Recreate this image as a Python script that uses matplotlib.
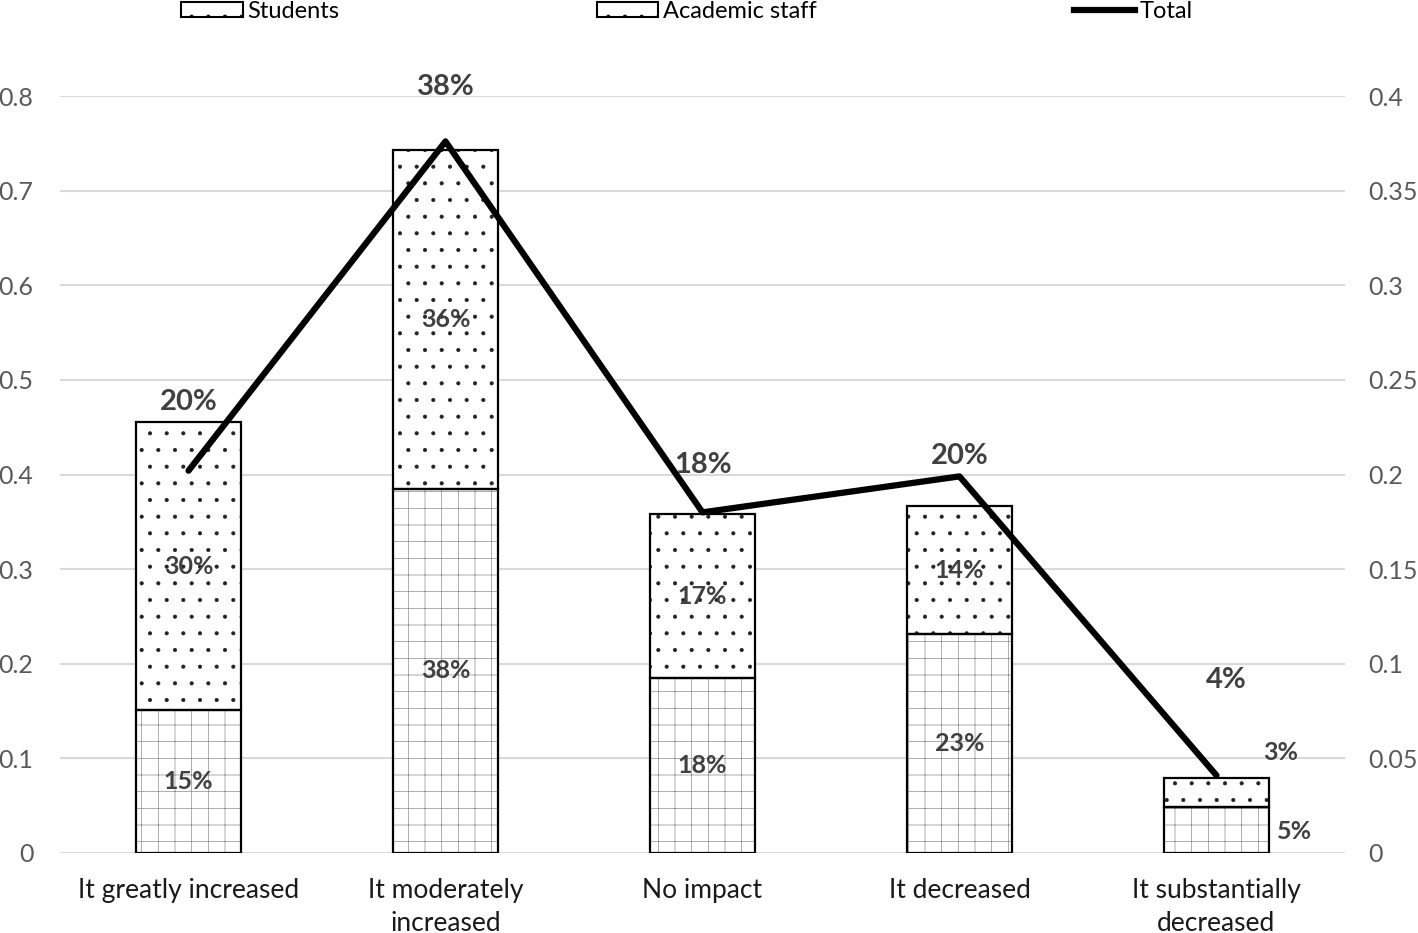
import matplotlib
matplotlib.use("Agg")
import matplotlib.pyplot as plt
from matplotlib.patches import Patch
from matplotlib.lines import Line2D

plt.rcParams['font.family'] = ['Lato', 'DejaVu Sans']
plt.rcParams['hatch.linewidth'] = 0.5

categories = ["It greatly increased", "It moderately\nincreased", "No impact",
              "It decreased", "It substantially\ndecreased"]
students = [0.151, 0.385, 0.185, 0.231, 0.049]
academic = [0.304, 0.358, 0.173, 0.136, 0.030]
total = [0.202, 0.376, 0.180, 0.199, 0.041]
students_lbl = ["15%", "38%", "18%", "23%", "5%"]
academic_lbl = ["30%", "36%", "17%", "14%", "3%"]
total_lbl = ["20%", "38%", "18%", "20%", "4%"]
left_ticks = [0, 0.1, 0.2, 0.3, 0.4, 0.5, 0.6, 0.7, 0.8]
right_ticks = [0, 0.05, 0.1, 0.15, 0.2, 0.25, 0.3, 0.35, 0.4]

fig = plt.figure(figsize=(14.18, 9.33), dpi=100)
ax = fig.add_axes([60/1418, 80/933, 1285/1418, 757/933])
x = list(range(len(categories)))
w = 0.405
lblc = '#404040'

# hatch layers (grey grid for students, black dots for staff)
ax.bar(x, students, width=w, color='white', edgecolor='#8a8a8a', linewidth=0, hatch='+', zorder=2)
ax.bar(x, academic, width=w, bottom=students, color='white', edgecolor='#222222', linewidth=0, hatch='.', zorder=2)
# outlines
ax.bar(x, students, width=w, fill=False, edgecolor='black', linewidth=1.6, zorder=3)
ax.bar(x, academic, width=w, bottom=students, fill=False, edgecolor='black', linewidth=1.6, zorder=3)

for i in range(len(x)):
    if i < 4:
        ax.text(x[i], students[i]/2, students_lbl[i], ha='center', va='center',
                fontsize=18, fontweight='bold', color=lblc, zorder=5)
        ax.text(x[i], students[i] + academic[i]/2, academic_lbl[i], ha='center', va='center',
                fontsize=18, fontweight='bold', color=lblc, zorder=5)

# last bar labels to the right
ax.annotate(students_lbl[4], (x[4] + w/2, students[4]/2), xytext=(8, -2), textcoords='offset pixels',
            ha='left', va='center', fontsize=18, fontweight='bold', color=lblc)
ax.annotate(academic_lbl[4], (x[4] + w/2, students[4] + academic[4]), xytext=(-5, 14), textcoords='offset pixels',
            ha='left', va='bottom', fontsize=18, fontweight='bold', color=lblc)

ax.set_xlim(-0.5, 4.5)
ax.set_ylim(0, 0.8)
ax.set_yticks(left_ticks)
ax.set_yticklabels(["0", "0.1", "0.2", "0.3", "0.4", "0.5", "0.6", "0.7", "0.8"])
ax.set_xticks(x)
ax.set_xticklabels(categories, fontsize=19, color='#1a1a1a', linespacing=1.38)
ax.tick_params(axis='y', labelsize=18, labelcolor='#595959', length=0, pad=19)
ax.tick_params(axis='x', length=0, pad=18)
ax.grid(axis='y', color='#d9d9d9', linewidth=1.5, zorder=0)
ax.set_axisbelow(True)
for s in ax.spines.values():
    s.set_visible(False)

ax2 = ax.twinx()
ax2.plot(x, total, color='black', linewidth=4.5, solid_capstyle='round', zorder=6)
ax2.set_ylim(0, 0.4)
ax2.set_yticks(right_ticks)
ax2.set_yticklabels(["0", "0.05", "0.1", "0.15", "0.2", "0.25", "0.3", "0.35", "0.4"])
ax2.tick_params(axis='y', labelsize=18, labelcolor='#595959', length=0, pad=17)
for s in ax2.spines.values():
    s.set_visible(False)

offsets = [69, 54, 47, 20, 95]
for i in range(len(x)):
    ax2.annotate(total_lbl[i], (x[i], total[i]), xytext=(10 if i == 4 else 0, offsets[i]),
                 textcoords='offset pixels', ha='center', va='center',
                 fontsize=21, fontweight='bold', color=lblc)

handles = [Patch(facecolor='white', edgecolor='black', hatch='.', linewidth=1.5),
           Patch(facecolor='white', edgecolor='black', hatch='.', linewidth=1.5),
           Line2D([0], [0], color='black', linewidth=4.5)]
fig.legend(handles, ["Students", "Academic staff", "Total"], loc='upper left',
           bbox_to_anchor=(160/1418, 1.022), ncol=3, frameon=False, fontsize=17,
           columnspacing=10.9, handlelength=2.6, handletextpad=0.2, handleheight=0.6)

fig.savefig("out.png", dpi=100)
